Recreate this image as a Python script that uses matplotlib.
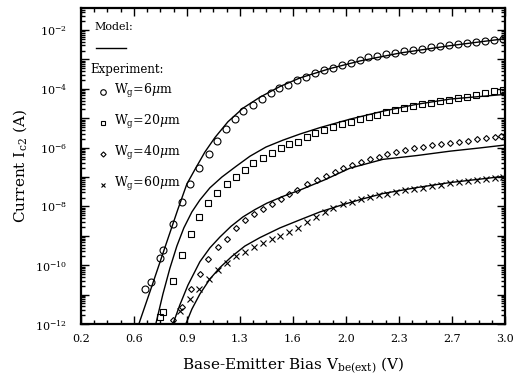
import math
import matplotlib
matplotlib.use("Agg")
import matplotlib.pyplot as plt
from matplotlib.ticker import LogLocator, FixedLocator, NullFormatter, FuncFormatter

plt.rcParams["font.family"] = "DejaVu Serif"
plt.rcParams["mathtext.fontset"] = "dejavuserif"

# experiment, Wg = 6 um (circles)
v_6 = [0.623, 0.662, 0.722, 0.744, 0.806, 0.865, 0.920, 0.981, 1.043, 1.100,
       1.158, 1.217, 1.272, 1.334, 1.393, 1.453, 1.510, 1.569, 1.628, 1.686,
       1.745, 1.805, 1.866, 1.922, 1.981, 2.042, 2.097, 2.156, 2.215, 2.274,
       2.333, 2.393, 2.452, 2.511, 2.570, 2.630, 2.689, 2.748, 2.807, 2.866,
       2.926, 2.985]
i_6 = [1.6e-11, 2.6e-11, 1.7e-10, 3.3e-10, 2.5e-9, 1.4e-8, 5.8e-8, 2.1e-7,
       6.2e-7, 1.7e-6, 4.2e-6, 9.1e-6, 1.7e-5, 2.8e-5, 4.5e-5, 7.1e-5,
       1.05e-4, 1.4e-4, 2.0e-4, 2.6e-4, 3.4e-4, 4.4e-4, 5.2e-4, 6.5e-4,
       7.8e-4, 9.5e-4, 1.2e-3, 1.35e-3, 1.5e-3, 1.7e-3, 1.9e-3, 2.1e-3,
       2.3e-3, 2.6e-3, 2.8e-3, 3.1e-3, 3.4e-3, 3.7e-3, 4.0e-3, 4.3e-3,
       4.6e-3, 4.9e-3]

# experiment, Wg = 20 um (squares)
v_20 = [0.722, 0.744, 0.806, 0.865, 0.926, 0.981, 1.041, 1.100, 1.162, 1.224,
        1.283, 1.338, 1.400, 1.459, 1.519, 1.576, 1.635, 1.690, 1.745, 1.805,
        1.866, 1.922, 1.981, 2.040, 2.099, 2.158, 2.217, 2.276, 2.335, 2.394,
        2.453, 2.512, 2.571, 2.630, 2.689, 2.748, 2.807, 2.866, 2.925, 2.984]
i_20 = [1.8e-12, 2.6e-12, 2.8e-11, 2.2e-10, 1.2e-9, 4.3e-9, 1.3e-8, 2.8e-8,
        5.6e-8, 1.0e-7, 1.8e-7, 3.0e-7, 4.4e-7, 6.8e-7, 9.5e-7, 1.3e-6,
        1.6e-6, 2.3e-6, 3.1e-6, 4.0e-6, 4.9e-6, 6.3e-6, 7.6e-6, 9.3e-6,
        1.1e-5, 1.3e-5, 1.6e-5, 1.9e-5, 2.2e-5, 2.6e-5, 3.0e-5, 3.4e-5,
        3.8e-5, 4.3e-5, 4.9e-5, 5.5e-5, 6.3e-5, 7.2e-5, 8.3e-5, 9.5e-5]

# experiment, Wg = 40 um (diamonds)
v_40 = [0.806, 0.865, 0.926, 0.986, 1.039, 1.107, 1.166, 1.224, 1.283, 1.342,
        1.400, 1.459, 1.519, 1.576, 1.626, 1.690, 1.756, 1.818, 1.877, 1.932,
        1.988, 2.047, 2.106, 2.165, 2.224, 2.283, 2.342, 2.401, 2.460, 2.519,
        2.578, 2.637, 2.696, 2.755, 2.814, 2.873, 2.932, 2.970]
i_40 = [1.4e-12, 3.9e-12, 1.5e-11, 5.2e-11, 1.6e-10, 4.1e-10, 8.1e-10,
        1.8e-9, 3.5e-9, 5.5e-9, 8.1e-9, 1.2e-8, 1.8e-8, 2.6e-8, 3.6e-8,
        5.8e-8, 7.9e-8, 1.07e-7, 1.5e-7, 2.0e-7, 2.6e-7, 3.2e-7, 4.0e-7,
        4.9e-7, 5.9e-7, 7.0e-7, 8.2e-7, 9.5e-7, 1.07e-6, 1.2e-6, 1.33e-6,
        1.45e-6, 1.6e-6, 1.75e-6, 1.9e-6, 2.05e-6, 2.25e-6, 2.45e-6]

# experiment, Wg = 60 um (crosses)
v_60 = [0.854, 0.920, 0.979, 1.045, 1.107, 1.166, 1.224, 1.283, 1.342, 1.400,
        1.459, 1.514, 1.576, 1.635, 1.690, 1.752, 1.811, 1.866, 1.928, 1.988,
        2.047, 2.106, 2.165, 2.224, 2.283, 2.342, 2.401, 2.460, 2.519, 2.578,
        2.637, 2.696, 2.755, 2.814, 2.873, 2.932, 2.989]
i_60 = [2.8e-12, 7.1e-12, 1.6e-11, 3.3e-11, 6.9e-11, 1.2e-10, 2.0e-10,
        2.9e-10, 4.3e-10, 5.9e-10, 7.6e-10, 1.0e-9, 1.3e-9, 1.9e-9, 3.0e-9,
        4.5e-9, 6.6e-9, 8.7e-9, 1.17e-8, 1.45e-8, 1.75e-8, 2.05e-8, 2.4e-8,
        2.75e-8, 3.1e-8, 3.5e-8, 3.95e-8, 4.4e-8, 4.9e-8, 5.45e-8, 6.2e-8,
        6.8e-8, 7.4e-8, 8.0e-8, 8.7e-8, 9.4e-8, 1.02e-7]

# model curves
vm_6 = [0.583, 0.669, 0.755, 0.841, 0.900, 0.953, 1.019, 1.085, 1.171, 1.270,
        1.382, 1.514, 1.646, 1.844, 2.042, 2.307, 2.637, 3.000]
im_6 = [1.0e-12, 1.95e-11, 4.0e-10, 8.1e-9, 5.8e-8, 1.8e-7, 7.1e-7, 2.2e-6,
        7.6e-6, 2.2e-5, 5.2e-5, 1.2e-4, 2.35e-4, 4.9e-4, 8.9e-4, 1.66e-3,
        2.95e-3, 5.1e-3]

vm_20 = [0.695, 0.742, 0.788, 0.834, 0.880, 0.933, 0.986, 1.052, 1.131, 1.224,
         1.316, 1.422, 1.534, 1.646, 1.778, 1.976, 2.194, 2.419, 2.637, 2.835,
         3.000]
im_20 = [1.0e-12, 1.05e-11, 7.9e-11, 4.5e-10, 1.86e-9, 6.5e-9, 1.66e-8,
         4.3e-8, 1.0e-7, 2.3e-7, 5.1e-7, 1.05e-6, 1.8e-6, 2.9e-6, 4.8e-6,
         9.3e-6, 1.74e-5, 3.0e-5, 4.5e-5, 5.5e-5, 6.5e-5]

vm_40 = [0.808, 0.854, 0.907, 0.986, 1.052, 1.118, 1.191, 1.270, 1.349, 1.428,
         1.534, 1.646, 1.811, 1.976, 2.194, 2.419, 2.637, 2.835, 3.000]
im_40 = [1.0e-12, 4.5e-12, 2.1e-11, 1.32e-10, 3.9e-10, 9.1e-10, 2.1e-9,
         4.4e-9, 7.8e-9, 1.29e-8, 2.2e-8, 3.6e-8, 8.1e-8, 2.0e-7, 4.0e-7,
         5.4e-7, 7.6e-7, 9.8e-7, 1.23e-6]

vm_60 = [0.893, 0.933, 0.986, 1.052, 1.118, 1.197, 1.283, 1.382, 1.514, 1.646,
         1.778, 1.910, 2.042, 2.194, 2.419, 2.637, 2.835, 3.000]
im_60 = [1.0e-12, 3.2e-12, 1.05e-11, 3.4e-11, 8.3e-11, 2.0e-10, 4.5e-10,
         8.7e-10, 1.86e-9, 3.5e-9, 6.5e-9, 1.07e-8, 1.7e-8, 2.75e-8, 4.4e-8,
         6.5e-8, 8.5e-8, 1.07e-7]

x_ticks = [0.2, 0.55, 0.9, 1.25, 1.6, 1.95, 2.3, 2.65, 3.0]
x_labels = ["0.2", "0.6", "0.9", "1.3", "1.6", "2.0", "2.3", "2.7", "3.0"]

fig = plt.figure(figsize=(5.18, 3.83), dpi=100)
ax = fig.add_axes([0.156, 0.154, 0.819, 0.825])

for v, i in [(vm_6, im_6), (vm_20, im_20), (vm_40, im_40), (vm_60, im_60)]:
    ax.plot(v, i, color="black", lw=1.0)

ax.plot(v_6, i_6, "o", ms=5, mfc="none", mec="black", mew=0.8)
ax.plot(v_20, i_20, "s", ms=4.3, mfc="none", mec="black", mew=0.8)
ax.plot(v_40, i_40, "D", ms=3.0, mfc="none", mec="black", mew=0.8)
ax.plot(v_60, i_60, "x", ms=4.3, color="black", mew=0.8)

ax.set_yscale("log")
ax.set_xlim(0.2, 3.0)
ax.set_ylim(1e-12, 10 ** -1.25)

ax.xaxis.set_major_locator(FixedLocator(x_ticks))
ax.set_xticklabels(x_labels)
ax.xaxis.set_minor_locator(FixedLocator(
    [0.2 + 0.0875 * k for k in range(33) if k % 4 != 0]))
ax.yaxis.set_major_locator(LogLocator(base=10, numticks=20))
ax.yaxis.set_minor_locator(LogLocator(base=10, subs=range(2, 10), numticks=20))
ax.yaxis.set_minor_formatter(NullFormatter())


def ylab(val, pos):
    e = int(round(math.log10(val)))
    return r"10$^{%d}$" % e if e % 2 == 0 else ""


ax.yaxis.set_major_formatter(FuncFormatter(ylab))

ax.tick_params(which="both", direction="in", top=True, right=True,
               labelsize=8, width=1.0)
ax.tick_params(which="major", length=6)
ax.tick_params(which="minor", length=3)
ax.tick_params(axis="x", pad=7.5)
ax.tick_params(axis="y", pad=10)
for s in ax.spines.values():
    s.set_linewidth(1.6)

ax.set_xlabel(r"Base-Emitter Bias V$_{\mathregular{be(ext)}}$ (V)",
              fontsize=11, labelpad=8)
ax.set_ylabel(r"Current I$_{\mathregular{c2}}$ (A)", fontsize=11)

# legend drawn as text
ax.text(0.033, 0.940, "Model:", transform=ax.transAxes, fontsize=8,
        va="center")
ax.plot([0.035, 0.106], [0.874, 0.874], transform=ax.transAxes,
        color="black", lw=1.0)
ax.text(0.022, 0.804, "Experiment:", transform=ax.transAxes, fontsize=8.5,
        va="center")
legend_items = [("o", 4.0, 0.735, r"W$_\mathregular{g}$=6$\mu$m"),
                ("s", 3.5, 0.637, r"W$_\mathregular{g}$=20$\mu$m"),
                ("D", 2.6, 0.537, r"W$_\mathregular{g}$=40$\mu$m"),
                ("x", 3.5, 0.440, r"W$_\mathregular{g}$=60$\mu$m")]
for m, ms, yy, lab in legend_items:
    ax.plot([0.0526], [yy], m, ms=ms, mfc="none", mec="black", mew=0.8,
            transform=ax.transAxes)
    ax.text(0.0785, yy - 0.006, lab, transform=ax.transAxes, fontsize=9,
            va="baseline")

fig.savefig("out.png", dpi=100)
